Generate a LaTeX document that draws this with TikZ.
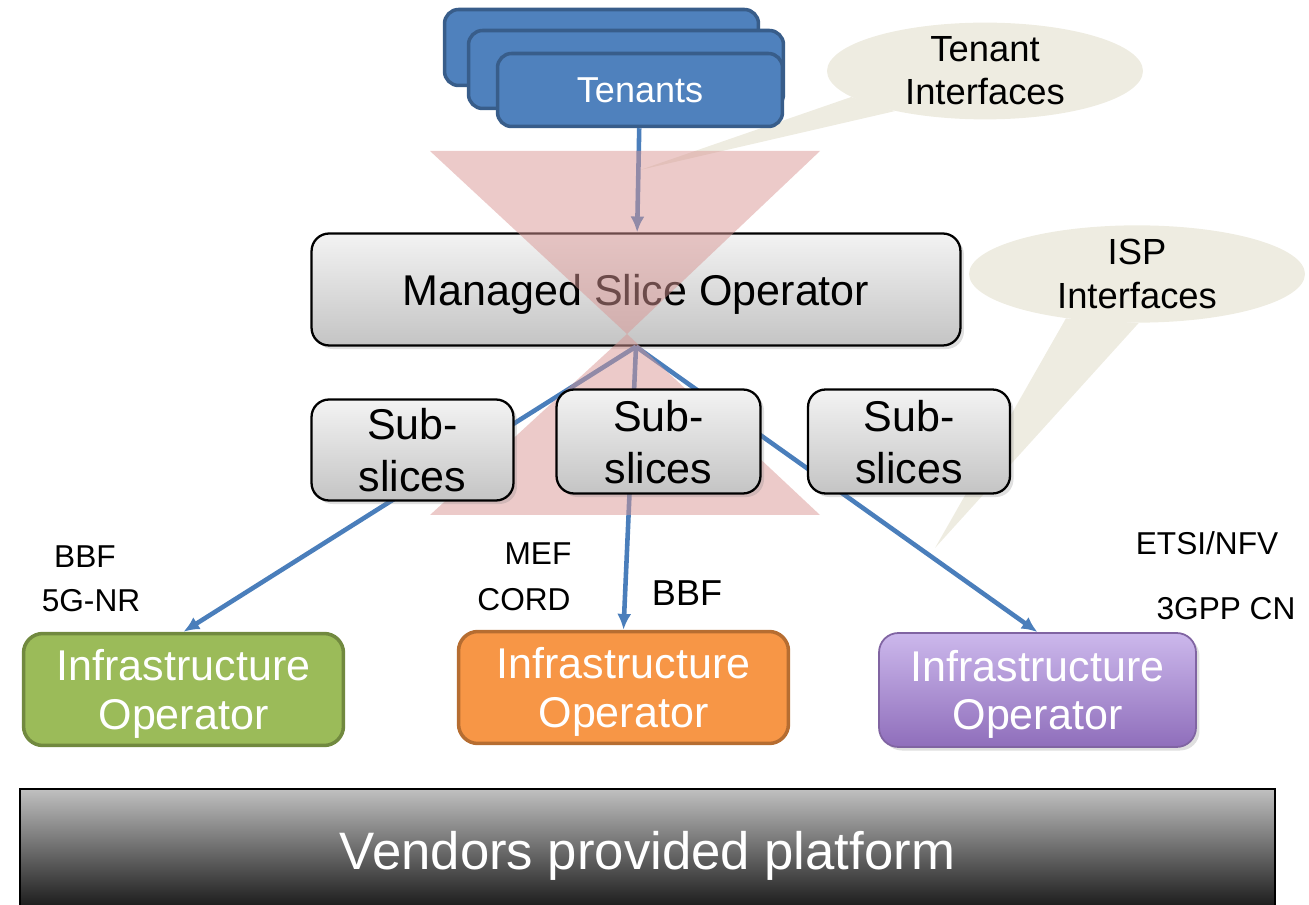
\documentclass[tikz,border=0pt]{standalone}
\usepackage{fontspec}
\setmainfont{Liberation Sans}
\usepackage{tikz}
\usetikzlibrary{ positioning, % For easy node-relative placements
                 shapes,      % For elipse and so
                 shadows,     % For the soft box shadows
                 arrows.meta,
               }

\definecolor{tenantblue}{RGB}{79,129,189}
\definecolor{tenantedge}{RGB}{56,93,138}
\definecolor{linkblue}{RGB}{74,126,187}
\definecolor{funnelpink}{RGB}{217,150,148}
\definecolor{calloutbg}{RGB}{238,236,225}
\definecolor{graytop}{RGB}{243,243,243}
\definecolor{graybot}{RGB}{196,196,196}
\definecolor{infragreen}{RGB}{155,187,89}
\definecolor{greenedge}{RGB}{113,137,63}
\definecolor{infraorange}{RGB}{247,150,70}
\definecolor{orangeedge}{RGB}{182,109,49}
\definecolor{purpletop}{RGB}{204,184,236}
\definecolor{purplebot}{RGB}{143,110,187}
\definecolor{purpleedge}{RGB}{128,100,162}
\definecolor{vendtop}{RGB}{192,192,192}
\definecolor{vendbot}{RGB}{22,22,22}

\begin{document}
\begin{tikzpicture}[x=0.02cm, y=-0.02cm,
  tenant/.style={draw=tenantedge, line width=2pt, fill=tenantblue, rounded corners=8pt,
                 text=white, text depth=0pt, font=\fontsize{20.5}{24}\selectfont},
  callout/.style={ellipse, fill=calloutbg, inner sep=0pt, align=center,
                  font=\fontsize{20.7}{24.5}\selectfont},
  graybox/.style={draw=black, line width=1.3pt, rounded corners=10pt,
                  top color=graytop, bottom color=graybot, align=center, inner sep=0pt,
                  text depth=0pt,
                  drop shadow={opacity=0.25, shadow xshift=2pt, shadow yshift=-2pt},
                  font=\fontsize{24.5}{29.5}\selectfont},
  infra/.style={rounded corners=11pt, line width=2pt, text=white, align=center,
                inner sep=0pt, text depth=0pt, font=\fontsize{24.5}{27.5}\selectfont},
  link/.style={draw=linkblue, line width=2.6pt, -{Latex[length=9pt, width=8pt]}},
  funnel/.style={fill=funnelpink, fill opacity=0.5},
  tag/.style={font=\fontsize{18}{20}\selectfont},
]
  \useasboundingbox (0,0) rectangle (1309,905);

  % speech bubbles
  \node[callout, minimum width=6.32cm, minimum height=1.76cm] (tenant_if) at (985,71) {Tenant\\Interfaces};
  \coordinate (tenant_tip) at (640,170);
  \fill[calloutbg] (tenant_if.191) -- (tenant_tip) -- (tenant_if.204) -- cycle;

  \node[callout, minimum width=6.72cm, minimum height=1.52cm] (isp_if) at (1137,274) {ISP\\Interfaces};
  \coordinate (isp_tip) at (935,548);
  \fill[calloutbg] (isp_if.212) -- (isp_tip) -- (isp_if.272) -- cycle;

  \node[tenant, minimum width=6.28cm, minimum height=1.52cm] (tenant_back) at (601.5,47.5) {};
  \node[tenant, minimum width=6.3cm, minimum height=1.56cm] (tenant_mid) at (626,69.5) {};
  \node[tenant, minimum width=5.7cm, minimum height=1.46cm] (tenants) at (640,90) {Tenants};

  \node[graybox, minimum width=12.98cm, minimum height=2.24cm] (mso) at (636,289.5) {Managed Slice Operator};

  \node[infra, draw=greenedge, fill=infragreen, minimum width=6.4cm, minimum height=2.24cm] (infra_a) at (183.5,689.5) {Infrastructure\\Operator};
  \node[infra, draw=orangeedge, fill=infraorange, minimum width=6.6cm, minimum height=2.24cm] (infra_b) at (623.5,687.5) {Infrastructure\\Operator};
  \node[infra, draw=purpleedge, line width=1pt, top color=purpletop, bottom color=purplebot,
        drop shadow={opacity=0.25, shadow xshift=2pt, shadow yshift=-2pt},
        minimum width=6.34cm, minimum height=2.28cm] (infra_c) at (1037.5,690) {Infrastructure\\Operator};

  \node[draw=black, line width=1pt, top color=vendtop, bottom color=vendbot, text=white, text depth=0pt,
        minimum width=25.1cm, minimum height=2.44cm, font=\fontsize{30}{34}\selectfont] (vendors) at (647.5,850) {Vendors provided platform};

  \draw[link] (tenants) -- (mso);
  \draw[link] (mso.south) -- (infra_a.north);
  \draw[link] (mso.south) -- (infra_b.north);
  \draw[link] (mso.south) -- (infra_c.north);

  \coordinate (waist) at (627,334);
  \fill[funnel] (430,151) -- (820,151) -- (waist) -- cycle;
  \fill[funnel] (430,515) -- (820,515) -- (waist) -- cycle;

  \node[graybox, minimum width=4.04cm, minimum height=2.02cm] (sub_a) at (412.5,450) {Sub-\\slices};
  \node[graybox, minimum width=4.08cm, minimum height=2.08cm] (sub_b) at (658.5,441.5) {Sub-\\slices};
  \node[graybox, minimum width=4.04cm, minimum height=2.08cm] (sub_c) at (909,441.5) {Sub-\\slices};

  \node[tag] (bbf_a) at (85,557) {BBF};
  \node[tag] (nr) at (91,601) {5G-NR};
  \node[tag] (mef) at (538,554) {MEF};
  \node[tag] (cord) at (524,600) {CORD};
  \node[tag, font=\fontsize{20.5}{24}\selectfont] (bbf_b) at (687,593) {BBF};
  \node[tag] (etsi) at (1207,543) {ETSI/NFV};
  \node[tag] (gpp) at (1226,609) {3GPP CN};
\end{tikzpicture}
\end{document}
